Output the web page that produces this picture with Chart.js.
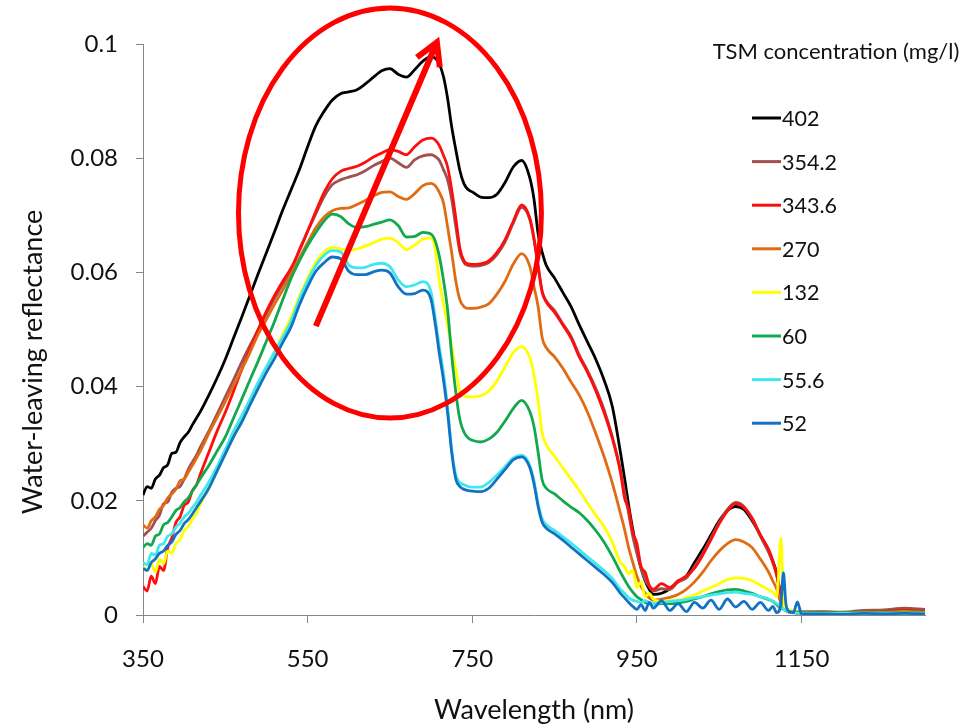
<!DOCTYPE html>
<html>
<head>
<meta charset="utf-8">
<title>Water-leaving reflectance</title>
<script src="https://cdn.jsdelivr.net/npm/chart.js@4.4.0/dist/chart.umd.min.js"></script>
<style>
  html, body { margin: 0; padding: 0; background: #fff; }
  #wrap { width: 973px; height: 728px; }
</style>
</head>
<body>
<div id="wrap"><canvas id="chart" width="973" height="728"></canvas></div>
<script>
// ===================================
// DATA
// ===================================

// wavelength, nm
const wavelengths = [
  350, 355, 360, 365, 370, 375, 380, 385, 390, 395, 400, 405, 410, 415, 420,
  430, 440, 450, 460, 470, 480, 490, 500, 510, 520, 530, 540, 550, 560, 570, 580, 590, 600, 610, 620, 630, 640, 650, 660, 670, 680, 690, 700,
  705, 710, 715, 720, 725, 730, 735, 740, 745,
  750, 760, 770, 780, 790, 800, 810, 820,
  825, 830, 835, 840,
  850, 860, 870, 880, 890, 900, 910, 920, 930,
  935, 940, 945, 950, 955, 960, 965, 970,
  980, 990, 1000, 1010, 1020, 1030, 1040, 1050, 1060, 1070, 1080, 1090, 1100, 1110,
  1115, 1120, 1125, 1128, 1131, 1135, 1140, 1145, 1150,
  1175, 1200, 1225, 1250, 1275, 1300
];

const tsm402 = [
  .0210, .0225, .0222, .0238, .0245, .0258, .0263, .0283, .0285, .0302, .0312, .0320, .0333, .0345, .0357,
  .0385, .0415, .0448, .0485, .0522, .0560, .0598, .0635, .0672, .0710, .0745, .0780, .0820, .0857, .0882, .0902, .0913, .0916, .0920, .0930, .0942, .0953, .0957, .0947, .0942, .0955, .0970, .0978,
  .0975, .0965, .0943, .0905, .0855, .0815, .0778, .0755, .0745,
  .0741, .0732, .0731, .0737, .0758, .0785, .0796, .0765,
  .0728, .0668, .0635, .0612,
  .0590, .0565, .0540, .0508, .0478, .0448, .0412, .0366, .0285,
  .0240, .0192, .0150, .0112, .0082, .0060, .0045, .0036,
  .0038, .0046, .0058, .0068, .0092, .0115, .0140, .0165, .0183, .0190, .0185, .0165, .0140, .0112,
  .0095, .0072, .0032, .0015, .0008, .0005, .0004, .0004, .0004,
  .0005, .0004, .0006, .0007, .0010, .0009
];

const tsm354 = [
  .0138, .0145, .0152, .0165, .0175, .0195, .0198, .0215, .0222, .0225, .0238, .0255, .0268, .0280, .0295,
  .0322, .0352, .0382, .0412, .0443, .0472, .0500, .0528, .0555, .0580, .0603, .0640, .0672, .0703, .0733, .0754, .0762, .0767, .0771, .0778, .0787, .0794, .0800, .0792, .0784, .0797, .0804, .0806,
  .0803, .0796, .0780, .0762, .0728, .0680, .0635, .0617, .0612,
  .0611, .0612, .0617, .0631, .0654, .0687, .0714, .0692,
  .0657, .0610, .0566, .0550,
  .0533, .0510, .0488, .0455, .0428, .0397, .0360, .0313, .0254,
  .0215, .0178, .0138, .0108, .0082, .0062, .0050, .0042,
  .0046, .0045, .0058, .0065, .0085, .0108, .0135, .0162, .0185, .0197, .0190, .0168, .0138, .0110,
  .0092, .0068, .0030, .0018, .0012, .0008, .0006, .0006, .0006,
  .0006, .0005, .0008, .0009, .0012, .0010
];

const tsm343 = [
  .0050, .0042, .0068, .0055, .0085, .0078, .0118, .0135, .0162, .0172, .0192, .0198, .0218, .0228, .0248,
  .0285, .0322, .0355, .0392, .0430, .0465, .0500, .0532, .0560, .0585, .0608, .0638, .0672, .0707, .0740, .0764, .0777, .0782, .0786, .0793, .0802, .0809, .0815, .0812, .0806, .0820, .0832, .0835,
  .0832, .0822, .0805, .0785, .0745, .0695, .0642, .0620, .0615,
  .0614, .0615, .0620, .0635, .0658, .0690, .0718, .0695,
  .0660, .0612, .0565, .0548,
  .0530, .0508, .0485, .0452, .0425, .0393, .0355, .0310, .0250,
  .0205, .0185, .0145, .0125, .0085, .0075, .0052, .0045,
  .0055, .0048, .0060, .0068, .0082, .0105, .0132, .0160, .0182, .0195, .0188, .0170, .0140, .0115,
  .0095, .0070, .0030, .0015, .0010, .0006, .0004, .0003, .0003,
  .0004, .0003, .0005, .0006, .0008, .0006
];

const tsm270 = [
  .0158, .0152, .0165, .0172, .0185, .0192, .0205, .0212, .0220, .0235, .0238, .0250, .0262, .0275, .0288,
  .0318, .0346, .0374, .0402, .0430, .0460, .0492, .0518, .0545, .0570, .0597, .0625, .0652, .0678, .0697, .0708, .0712, .0713, .0719, .0726, .0734, .0740, .0741, .0733, .0728, .0738, .0752, .0756,
  .0752, .0740, .0722, .0680, .0635, .0585, .0552, .0540, .0537,
  .0537, .0539, .0545, .0562, .0585, .0615, .0633, .0610,
  .0575, .0540, .0485, .0468,
  .0452, .0432, .0408, .0385, .0355, .0318, .0278, .0232, .0178,
  .0150, .0118, .0092, .0068, .0050, .0038, .0030, .0026,
  .0028, .0031, .0036, .0045, .0058, .0075, .0095, .0112, .0125, .0132, .0128, .0118, .0098, .0075,
  .0060, .0045, .0020, .0012, .0008, .0006, .0005, .0005, .0004,
  .0004, .0004, .0005, .0005, .0006, .0005
];

const tsm132 = [
  .0085, .0078, .0090, .0075, .0098, .0090, .0112, .0108, .0125, .0132, .0148, .0155, .0168, .0178, .0195,
  .0222, .0252, .0282, .0312, .0342, .0372, .0402, .0432, .0462, .0492, .0522, .0558, .0590, .0618, .0636, .0644, .0641, .0639, .0641, .0646, .0652, .0658, .0660, .0652, .0640, .0648, .0658, .0660,
  .0640, .0585, .0545, .0508, .0470, .0430, .0390, .0384, .0382,
  .0382, .0384, .0392, .0410, .0435, .0460, .0470, .0450,
  .0420, .0375, .0318, .0298,
  .0278, .0258, .0238, .0218, .0196, .0175, .0155, .0128, .0092,
  .0085, .0072, .0078, .0048, .0058, .0032, .0038, .0028,
  .0024, .0025, .0026, .0030, .0035, .0042, .0048, .0055, .0062, .0065, .0064, .0060, .0052, .0044,
  .0040, .0032, .0135, .0025, .0010, .0008, .0007, .0005, .0004,
  .0003, .0003, .0004, .0004, .0005, .0004
];

const tsm60 = [
  .0118, .0125, .0122, .0138, .0142, .0158, .0162, .0172, .0183, .0188, .0198, .0205, .0217, .0228, .0240,
  .0262, .0287, .0312, .0345, .0378, .0412, .0445, .0480, .0515, .0553, .0590, .0620, .0647, .0670, .0690, .0702, .0698, .0685, .0679, .0680, .0684, .0688, .0692, .0682, .0662, .0663, .0670, .0667,
  .0655, .0628, .0587, .0535, .0455, .0390, .0342, .0320, .0310,
  .0306, .0303, .0308, .0320, .0340, .0362, .0376, .0356,
  .0330, .0285, .0236, .0222,
  .0212, .0200, .0189, .0179, .0165, .0148, .0128, .0103, .0075,
  .0062, .0050, .0040, .0032, .0027, .0022, .0020, .0019,
  .0020, .0020, .0021, .0024, .0028, .0032, .0037, .0041, .0044, .0045, .0042, .0038, .0032, .0027,
  .0024, .0018, .0012, .0010, .0008, .0006, .0005, .0004, .0004,
  .0004, .0004, .0004, .0004, .0004, .0004
];

const tsm55 = [
  .0092, .0088, .0108, .0105, .0122, .0125, .0138, .0142, .0154, .0161, .0172, .0178, .0188, .0198, .0210,
  .0233, .0260, .0290, .0322, .0349, .0378, .0408, .0435, .0461, .0487, .0515, .0553, .0585, .0612, .0630, .0638, .0636, .0613, .0608, .0609, .0614, .0616, .0610, .0587, .0575, .0578, .0584, .0565,
  .0520, .0470, .0424, .0365, .0290, .0245, .0232, .0228, .0225,
  .0224, .0224, .0232, .0245, .0260, .0275, .0280, .0262,
  .0235, .0195, .0168, .0158,
  .0148, .0137, .0126, .0114, .0102, .0090, .0078, .0064, .0045,
  .0038, .0030, .0026, .0024, .0022, .0025, .0022, .0020,
  .0022, .0024, .0025, .0027, .0030, .0032, .0035, .0037, .0039, .0040, .0038, .0036, .0032, .0028,
  .0024, .0020, .0015, .0010, .0008, .0005, .0004, .0003, .0003,
  .0003, .0003, .0003, .0003, .0003, .0003
];

const tsm52 = [
  .0082, .0078, .0092, .0098, .0108, .0112, .0122, .0128, .0141, .0148, .0160, .0167, .0177, .0188, .0199,
  .0222, .0252, .0282, .0312, .0338, .0368, .0397, .0425, .0450, .0478, .0505, .0543, .0575, .0602, .0617, .0627, .0624, .0602, .0596, .0596, .0601, .0604, .0599, .0575, .0562, .0563, .0569, .0552,
  .0510, .0458, .0412, .0355, .0285, .0238, .0225, .0220, .0218,
  .0217, .0216, .0222, .0238, .0255, .0272, .0277, .0258,
  .0230, .0190, .0162, .0152,
  .0142, .0131, .0119, .0107, .0095, .0083, .0071, .0057, .0038,
  .0030, .0022, .0015, .0010, .0018, .0008, .0022, .0012,
  .0025, .0008, .0020, .0006, .0022, .0012, .0026, .0010, .0028, .0014, .0024, .0010, .0022, .0008,
  .0015, .0004, .0020, .0074, .0020, .0006, .0004, .0023, .0002,
  .0002, .0001, .0003, .0002, .0003, .0002
];

const seriesLabels = ['402', '354.2', '343.6', '270', '132', '60', '55.6', '52'];
const seriesValues = [tsm402, tsm354, tsm343, tsm270, tsm132, tsm60, tsm55, tsm52];
const seriesColors = ['#000000', '#a0504e', '#ff0d0d', '#e06b12', '#ffff00', '#12a84e', '#3fe8ee', '#1273c4'];

const xTickValues = [350, 550, 750, 950, 1150];
const yTickLabels = ['0', '0.02', '0.04', '0.06', '0.08', '0.1'];

const legendTitle = 'TSM concentration (mg/l)';
const xTitle = 'Wavelength (nm)';
const yTitle = 'Water-leaving reflectance';

// hand-drawn red ellipse + arrow, in data units
const ellipseCenter = [650, 0.0704];
const ellipseRadius = [184, 0.0359];
const arrowFrom = [560, 0.0506];
const arrowTo = [707, 0.1003];

// ===================================
// PLUGINS
// ===================================

const FONT = 'Lato, "Open Sans", sans-serif';

const annotationPlugin = {
  id: 'redMarks',
  afterDatasetsDraw(chart) {
    const { ctx, scales: { x, y } } = chart;
    ctx.save();
    ctx.strokeStyle = '#ff0000';

    // ellipse
    const cx = x.getPixelForValue(ellipseCenter[0]);
    const cy = y.getPixelForValue(ellipseCenter[1]);
    const rx = x.getPixelForValue(ellipseCenter[0] + ellipseRadius[0]) - cx;
    const ry = cy - y.getPixelForValue(ellipseCenter[1] + ellipseRadius[1]);
    ctx.lineWidth = 5;
    ctx.beginPath();
    ctx.ellipse(cx, cy, rx, ry, 0, 0, Math.PI * 2);
    ctx.stroke();

    // arrow
    const x0 = x.getPixelForValue(arrowFrom[0]);
    const y0 = y.getPixelForValue(arrowFrom[1]);
    const x1 = x.getPixelForValue(arrowTo[0]);
    const y1 = y.getPixelForValue(arrowTo[1]);
    const ang = Math.atan2(y1 - y0, x1 - x0);
    ctx.lineWidth = 6;
    ctx.lineCap = 'butt';
    ctx.beginPath();
    ctx.moveTo(x0, y0);
    ctx.lineTo(x1 - 4 * Math.cos(ang), y1 - 4 * Math.sin(ang));
    ctx.stroke();
    const head = 25;
    ctx.lineJoin = 'miter';
    ctx.beginPath();
    ctx.moveTo(x1 - head * Math.cos(ang - 0.52), y1 - head * Math.sin(ang - 0.52));
    ctx.lineTo(x1, y1);
    ctx.lineTo(x1 - head * Math.cos(ang + 0.52), y1 - head * Math.sin(ang + 0.52));
    ctx.stroke();
    ctx.restore();
  }
};

const legendPlugin = {
  id: 'sideLegend',
  afterDraw(chart) {
    const { ctx } = chart;
    ctx.save();
    ctx.fillStyle = '#111';
    ctx.textBaseline = 'middle';

    ctx.font = '22px ' + FONT;
    ctx.textAlign = 'center';
    ctx.fillText(legendTitle, 836, 52);

    ctx.font = '21.5px ' + FONT;
    ctx.textAlign = 'left';
    seriesLabels.forEach((label, i) => {
      const yy = 118 + i * 43.6;
      ctx.strokeStyle = seriesColors[i];
      ctx.lineWidth = 3;
      ctx.beginPath();
      ctx.moveTo(752, yy);
      ctx.lineTo(781, yy);
      ctx.stroke();
      ctx.fillText(label, 782, yy + 1);
    });

    // y axis title
    ctx.font = '27px ' + FONT;
    ctx.textAlign = 'center';
    ctx.translate(33, 362);
    ctx.rotate(-Math.PI / 2);
    ctx.fillText(yTitle, 0, 0);
    ctx.restore();
  }
};

// ===================================
// CHART
// ===================================

const datasets = seriesValues.map((vals, i) => ({
  label: seriesLabels[i],
  data: vals.map((v, k) => ({ x: wavelengths[k], y: v })),
  borderColor: seriesColors[i],
  backgroundColor: seriesColors[i],
  borderWidth: 2.8,
  pointRadius: 0,
  cubicInterpolationMode: 'monotone',
  fill: false,
  order: seriesLabels.length - i
}));

const axisGray = '#868686';

new Chart(document.getElementById('chart'), {
  type: 'line',
  data: { datasets },
  options: {
    responsive: false,
    animation: false,
    layout: { padding: { top: 44, right: 48, left: 0, bottom: 0 } },
    plugins: {
      legend: { display: false },
      tooltip: { enabled: false }
    },
    scales: {
      x: {
        type: 'linear',
        min: 350,
        max: 1300,
        afterBuildTicks: (scale) => { scale.ticks = xTickValues.map(v => ({ value: v })); },
        afterFit: (scale) => { scale.height = 113; },
        border: { display: true, color: axisGray, width: 1 },
        grid: { drawOnChartArea: false, drawTicks: true, tickLength: 8, color: axisGray },
        ticks: {
          autoSkip: false,
          maxRotation: 0,
          padding: 22,
          color: '#111',
          font: { family: FONT, size: 24 },
          callback: (v) => String(v)
        },
        title: {
          display: true,
          text: xTitle,
          color: '#111',
          font: { family: FONT, size: 27 },
          padding: { top: 0, bottom: 2 }
        }
      },
      y: {
        min: 0,
        max: 0.1,
        afterBuildTicks: (scale) => { scale.ticks = yTickLabels.map(t => ({ value: parseFloat(t) })); },
        afterFit: (scale) => { scale.width = 143; },
        border: { display: true, color: axisGray, width: 1 },
        grid: { drawOnChartArea: false, drawTicks: true, tickLength: 7, color: axisGray },
        ticks: {
          padding: 18,
          color: '#111',
          font: { family: FONT, size: 24 },
          callback: (v, idx) => yTickLabels[idx]
        }
      }
    }
  },
  plugins: [annotationPlugin, legendPlugin]
});
</script>
</body>
</html>
